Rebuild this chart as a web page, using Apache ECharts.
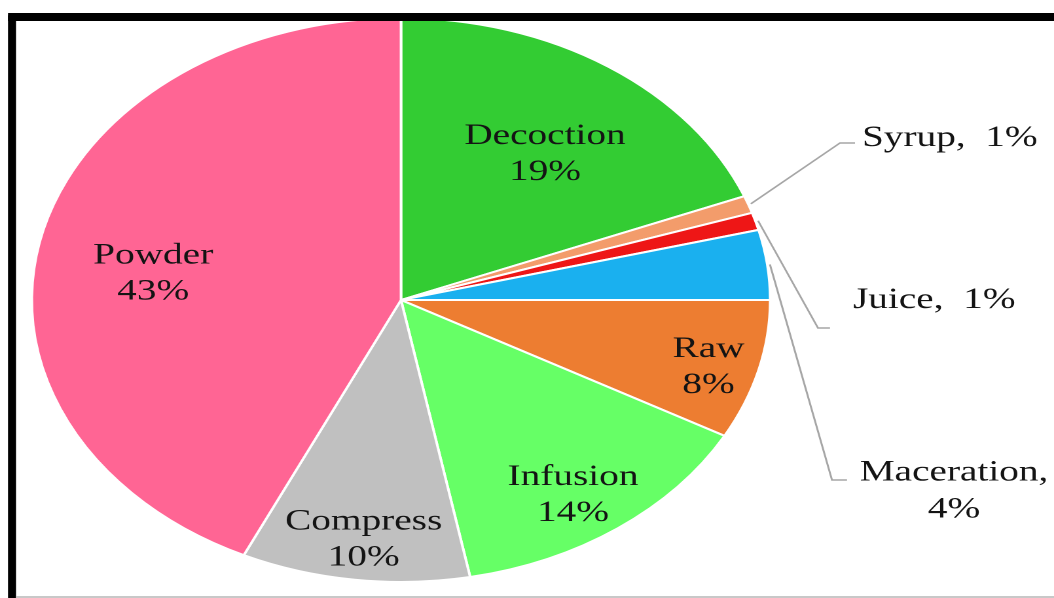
<!DOCTYPE html>
<html><head><meta charset="utf-8">
<script src="https://cdn.jsdelivr.net/npm/echarts@6/dist/echarts.min.js"></script>
<style>
html,body{margin:0;padding:0;overflow:hidden;background:#fff;width:1054px;height:598px}
#c{width:805px;height:598px;transform:scaleX(1.30932);transform-origin:0 0;}
</style></head><body><div id="c"></div>
<script>
// ---- data ----
const categories = ['Decoction','Syrup','Juice','Maceration','Raw','Infusion','Compress','Powder'];
const values = [19, 1, 1, 4, 8, 14, 10, 43];
const colors = ['#33cc33','#f39c6b','#ee1616','#1ab0ef','#ed7d31','#66ff66','#c0c0c0','#ff6594'];
const outsideNames = ['Syrup','Juice','Maceration'];

// ---- layout (the picture is stretched horizontally) ----
const SX = 1054 / 805;
const CX = 401 / SX, CY = 300, R = 282;
const insideRadius = {Decoction:0.66, Powder:0.66, Compress:0.85, Infusion:0.82, Raw:0.86};
const insideNudge = {Decoction:[7,8], Powder:[-10,14], Compress:[2,2], Infusion:[-6,8], Raw:[0,7]};
const outsideLayout = {
  Syrup:      {text:[862,138], align:'left',   line:[[840,143],[855,143]]},
  Juice:      {text:[853,300], align:'left',   line:[[818,328],[830,328]]},
  Maceration: {text:[954,491], align:'center', line:[[832,480],[847,480]]}
};
const total = values.reduce((a,b)=>a+b,0);
function midAngle(i){
  let before = 0; for (let j=0;j<i;j++) before += values[j];
  return (90 - (before + values[i]/2) / total * 360) * Math.PI / 180;
}

const chart = echarts.init(document.getElementById('c'), null, {devicePixelRatio: 2});
chart.setOption({
  animation:false,
  backgroundColor:'#fff',
  graphic:[
    {type:'rect', z:100, shape:{x:8/SX, y:13, width:1100, height:8, r:[3,0,0,0]}, style:{fill:'#000'}},
    {type:'rect', z:100, shape:{x:8/SX, y:13, width:8/SX, height:600}, style:{fill:'#000'}},
    {type:'rect', z:100, shape:{x:16/SX, y:596, width:1100, height:2}, style:{fill:'#c8c8c8'}}
  ],
  series:[{
    type:'pie', startAngle:90, clockwise:true, center:[CX, CY], radius:R,
    avoidLabelOverlap:false, silent:true,
    itemStyle:{borderColor:'#fff', borderWidth:2},
    label:{
      show:true, position:'inside', fontFamily:'"Liberation Serif", "Times New Roman", serif', fontSize:30,
      color:'#141414', lineHeight:36,
      formatter:function(p){
        if (p.name === 'Maceration') return p.name + ',\n' + p.value + '%';
        if (outsideNames.indexOf(p.name) >= 0) return p.name + ',  ' + p.value + '%';
        return p.name + '\n' + p.value + '%';
      }
    },
    labelLine:{show:false},
    labelLayout:function(p){
      const i = p.dataIndex, name = categories[i], a = midAngle(i);
      const o = outsideLayout[name];
      if (o) {
        const sx = CX + (R+2)*Math.cos(a), sy = CY - (R+2)*Math.sin(a);
        return {x:o.text[0]/SX, y:o.text[1], align:o.align, verticalAlign:'middle',
          labelLinePoints:[[sx,sy],[o.line[0][0]/SX,o.line[0][1]],[o.line[1][0]/SX,o.line[1][1]]]};
      }
      const f = insideRadius[name], n = insideNudge[name];
      return {x:CX + f*R*Math.cos(a) + n[0]/SX, y:CY - f*R*Math.sin(a) + n[1], align:'center', verticalAlign:'middle'};
    },
    data: categories.map(function(n,i){
      const out = outsideNames.indexOf(n) >= 0;
      const d = {name:n, value:values[i], itemStyle:{color:colors[i]}};
      if (out) {
        d.label = {position:'outside', fontSize:30, lineHeight:37};
        d.labelLine = {show:true, length:10, length2:10, smooth:false, lineStyle:{color:'#a6a6a6', width:1.5}};
      }
      return d;
    })
  }]
});
</script></body></html>
